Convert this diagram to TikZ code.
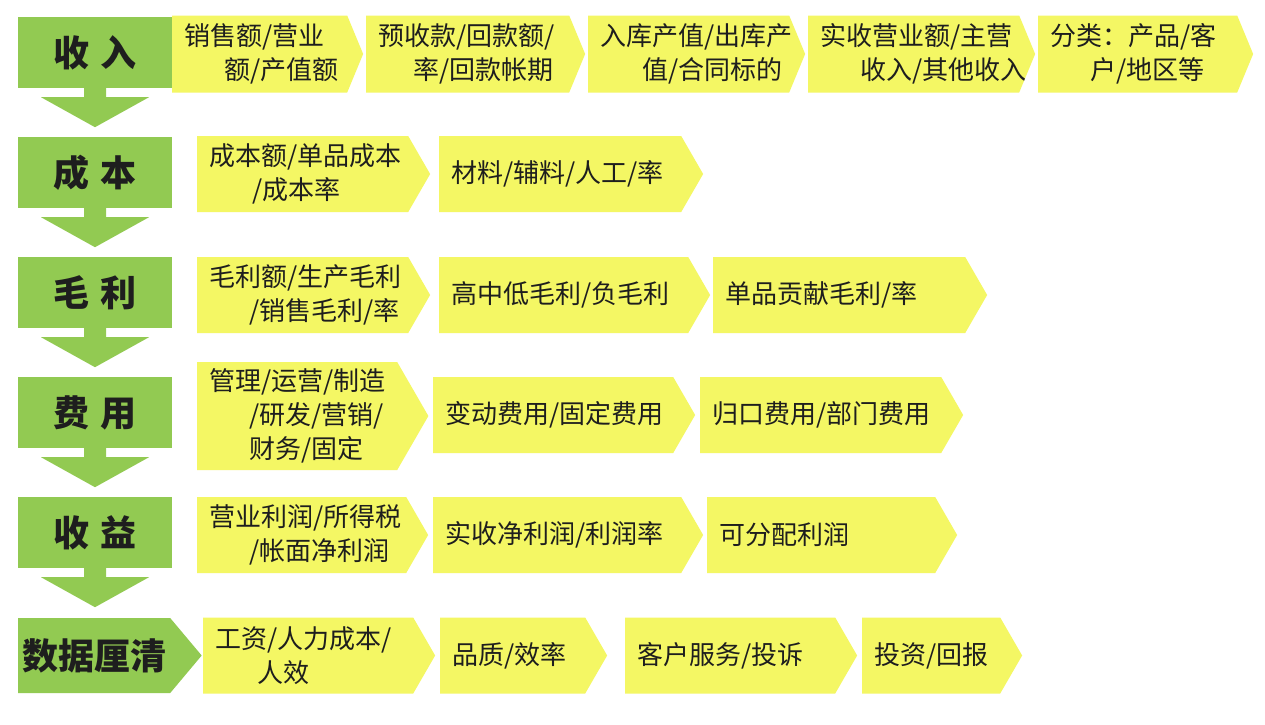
\documentclass[tikz,border=0pt]{standalone}
\usepackage{fontspec}
\newfontfamily\cjk{Noto Sans CJK SC}
\usetikzlibrary{positioning}
\usetikzlibrary{shapes.symbols, calc}

\definecolor{stagegreen}{RGB}{146,202,82}
\definecolor{itemyellow}{RGB}{244,247,100}
\definecolor{inktext}{RGB}{30,30,30}

\begin{document}
\begin{tikzpicture}
    [
        x=1pt, y=-1pt,
        stage/.style={rectangle, fill=stagegreen, minimum width=154pt, minimum height=71pt,
            inner sep=0pt, text=inktext, font=\cjk\bfseries\fontsize{36}{36}\selectfont},
        item/.style={signal, signal to=east, signal pointer angle=120, fill=itemyellow,
            minimum height=76pt, inner xsep=12pt, inner ysep=0pt, align=left, anchor=west,
            text=inktext, font=\cjk\fontsize{26}{34}\selectfont},
        toprow/.style={signal pointer angle=135, minimum height=77pt}
    ]
        \useasboundingbox (0,0) rectangle (1265,724);
        \fill[white] (0,0) rectangle (1265,724);

        % stages
        \node[stage] (g1) at (95,52.5) {收\hspace{12pt}入};
        \node[stage] (g2) at (95,172.5) {成\hspace{12pt}本};
        \node[stage] (g3) at (95,292.5) {毛\hspace{12pt}利};
        \node[stage] (g4) at (95,412.5) {费\hspace{12pt}用};
        \node[stage] (g5) at (95,532.5) {收\hspace{12pt}益};
        \node[stage, signal, signal to=east, signal pointer angle=100, minimum height=75pt,
            text width=152pt, align=center, anchor=west] (g6) at (18,655.5) {数据厘清};

        \foreach \s in {g1,g2,g3,g4,g5}
            \fill[stagegreen] ($(\s.south)+(-11,0)$) -- ++(0,9) -- ++(-43,0)
                -- ($(\s.south)+(0,39)$) -- ($(\s.south)+(54,9)$) -- ++(-43,0) -- ++(0,-9) -- cycle;

        % row 1
        \node[item, toprow, text width=151pt] (r1a) at (172,54) {销售额/营业\\\hspace*{40pt}额/产值额};
        \node[item, toprow, text width=179pt] (r1b) at (366,54) {预收款/回款额/\\\hspace*{35pt}率/回款帐期};
        \node[item, toprow, text width=177pt] (r1c) at (588,54) {入库产值/出库产\\\hspace*{42pt}值/合同标的};
        \node[item, toprow, text width=187pt] (r1d) at (808,54) {实收营业额/主营\\\hspace*{40pt}收入/其他收入};
        \node[item, toprow, text width=175pt] (r1e) at (1038,54) {分类：产品/客\\\hspace*{40pt}户/地区等};

        % row 2
        \node[item, text width=187pt] (r2a) at (197,174) {成本额/单品成本\\\hspace*{43pt}/成本率};
        \node[item, text width=218pt] (r2b) at (439,174) {材料/辅料/人工/率};

        % row 3
        \node[item, text width=187pt] (r3a) at (197,295) {毛利额/生产毛利\\\hspace*{40pt}/销售毛利/率};
        \node[item, text width=225pt] (r3b) at (439,295) {高中低毛利/负毛利};
        \node[item, text width=228pt] (r3c) at (713,295) {单品贡献毛利/率};

        % row 4
        \node[item, minimum height=108pt, text width=176pt] (r4a) at (197,416)
            {管理/运营/制造\\\hspace*{40pt}/研发/营销/\\\hspace*{40pt}财务/固定};
        \node[item, text width=216pt] (r4b) at (433,415) {变动费用/固定费用};
        \node[item, text width=217pt] (r4c) at (700,415) {归口费用/部门费用};

        % row 5
        \node[item, text width=185pt] (r5a) at (197,535) {营业利润/所得税\\\hspace*{40pt}/帐面净利润};
        \node[item, text width=224pt] (r5b) at (433,535) {实收净利润/利润率};
        \node[item, text width=204pt] (r5c) at (707,535) {可分配利润};

        % row 6
        \node[item, text width=186pt] (r6a) at (203,655.5) {工资/人力成本/\\\hspace*{42pt}人效};
        \node[item, text width=121pt] (r6b) at (440,655.5) {品质/效率};
        \node[item, text width=186pt] (r6c) at (625,655.5) {客户服务/投诉};
        \node[item, text width=114pt] (r6d) at (862,655.5) {投资/回报};
\end{tikzpicture}
\end{document}
